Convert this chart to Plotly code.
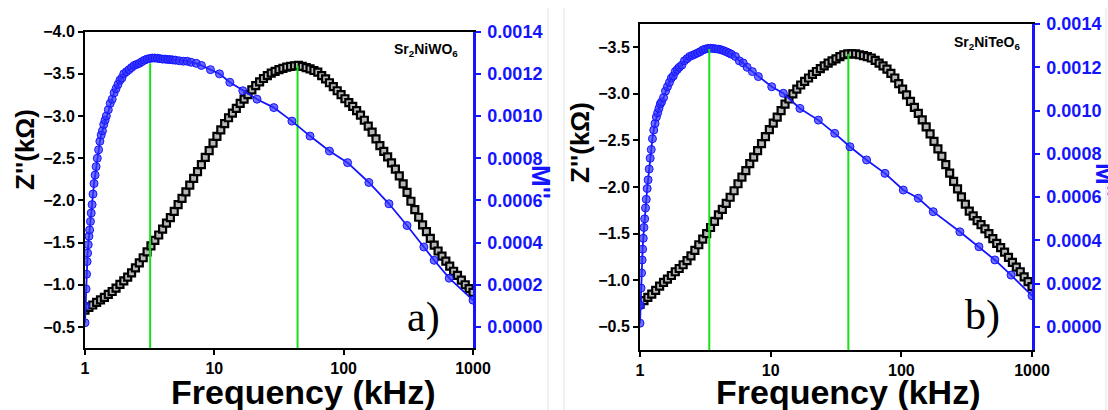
import plotly.graph_objects as go

# ---------------- data ----------------
freq = [1.000, 1.072, 1.148, 1.230, 1.318, 1.413, 1.514, 1.622, 1.738, 1.862, 1.995, 2.138, 2.291,
        2.455, 2.630, 2.818, 3.020, 3.236, 3.467, 3.715, 3.981, 4.266, 4.571, 4.898, 5.248, 5.623,
        6.026, 6.457, 6.918, 7.413, 7.943, 8.511, 9.120, 9.772,
        10.47, 11.22, 12.02, 12.88, 13.80, 14.79, 15.85, 16.98, 18.20, 19.50, 20.89, 22.39, 23.99,
        25.70, 27.54, 29.51, 31.62, 33.88, 36.31, 38.90, 41.69, 44.67, 47.86, 51.29, 54.95, 58.88,
        63.10, 67.61, 72.44, 77.62, 83.18, 89.13, 95.50,
        102.3, 109.6, 117.5, 125.9, 134.9, 144.5, 154.9, 166.0, 177.8, 190.5, 204.2, 218.8, 234.4,
        251.2, 269.2, 288.4, 309.0, 331.1, 354.8, 380.2, 407.4, 436.5, 467.7, 501.2, 537.0, 575.4,
        616.6, 660.7, 707.9, 758.6, 812.8, 871.0, 933.3, 1000]

z_a = [-0.70, -0.73, -0.76, -0.79, -0.82, -0.85, -0.885, -0.92, -0.96, -1.005, -1.045, -1.09,
       -1.14, -1.20, -1.26, -1.32, -1.39, -1.46, -1.525, -1.59, -1.66, -1.73, -1.795, -1.87,
       -1.95, -2.025, -2.10, -2.18, -2.26, -2.34, -2.425, -2.51, -2.59, -2.68,
       -2.76, -2.835, -2.91, -2.98, -3.035, -3.09, -3.15, -3.20, -3.255, -3.31, -3.36, -3.405,
       -3.445, -3.48, -3.51, -3.53, -3.55, -3.565, -3.58, -3.59, -3.595, -3.60, -3.59, -3.575,
       -3.56, -3.54, -3.52, -3.48, -3.44, -3.395, -3.35, -3.30, -3.255,
       -3.205, -3.16, -3.115, -3.065, -3.01, -2.95, -2.88, -2.81, -2.73, -2.65, -2.58, -2.515,
       -2.445, -2.37, -2.29, -2.195, -2.095, -1.99, -1.89, -1.80, -1.71, -1.63, -1.55, -1.47,
       -1.40, -1.34, -1.28, -1.22, -1.16, -1.11, -1.055, -1.00, -0.955, -0.91]

z_b = [-0.74, -0.78, -0.815, -0.85, -0.89, -0.935, -0.975, -1.01, -1.05, -1.09, -1.125, -1.165,
       -1.21, -1.26, -1.32, -1.38, -1.44, -1.50, -1.565, -1.63, -1.70, -1.76, -1.825, -1.89,
       -1.96, -2.035, -2.105, -2.175, -2.25, -2.32, -2.39, -2.465, -2.54, -2.615,
       -2.685, -2.75, -2.82, -2.89, -2.945, -3.00, -3.05, -3.095, -3.135, -3.17, -3.21, -3.24,
       -3.27, -3.30, -3.33, -3.355, -3.375, -3.40, -3.42, -3.43, -3.43, -3.43, -3.42, -3.41,
       -3.40, -3.385, -3.36, -3.33, -3.30, -3.265, -3.22, -3.17, -3.11,
       -3.05, -2.99, -2.92, -2.855, -2.79, -2.72, -2.645, -2.57, -2.49, -2.41, -2.33, -2.24,
       -2.15, -2.06, -1.98, -1.895, -1.815, -1.74, -1.69, -1.64, -1.595, -1.55, -1.50, -1.445,
       -1.395, -1.35, -1.30, -1.245, -1.19, -1.14, -1.09, -1.035, -0.985, -0.93]

# M'' sampling: dense at low frequency (shared), sparse at high frequency
freq_m_low = [1.000, 1.009, 1.019, 1.028, 1.038, 1.047, 1.059, 1.072, 1.086, 1.102, 1.117, 1.135,
              1.153, 1.175, 1.197, 1.219, 1.245, 1.274, 1.303, 1.334, 1.365, 1.396, 1.429, 1.462,
              1.514, 1.567, 1.622, 1.679, 1.738, 1.799, 1.862, 1.928, 1.995, 2.089, 2.188, 2.291,
              2.399, 2.512, 2.630, 2.754, 2.884, 3.020, 3.162, 3.311, 3.467, 3.631, 3.802, 3.981,
              4.169, 4.365, 4.571, 4.786, 5.012, 5.370, 5.754, 6.166, 6.607, 7.244]

m_a_low = [0.00002, 0.00010, 0.00018, 0.00025, 0.00031, 0.00035, 0.00039, 0.00043, 0.00046,
           0.00050, 0.00054, 0.00058, 0.00063, 0.00068, 0.00072, 0.00076, 0.00080, 0.00084,
           0.00088, 0.00091, 0.00093, 0.00096, 0.00098, 0.00100, 0.00103, 0.00106, 0.00108,
           0.00111, 0.00113, 0.00115, 0.00117, 0.00118, 0.00120, 0.00121, 0.00122, 0.00123,
           0.00124, 0.001245, 0.00125, 0.001258, 0.001265, 0.00127, 0.001273, 0.001275,
           0.001275, 0.001274, 0.001272, 0.00127, 0.00127, 0.001268, 0.001268, 0.001266,
           0.001265, 0.001262, 0.00126, 0.00126, 0.001255, 0.00125]
freq_m_a_high = [7.943, 9.333, 10.96, 13.18, 16.60, 21.38, 28.84, 39.81, 54.95, 77.62, 107.2,
                 156.7, 223.9, 309.0, 416.9, 501.2, 654.6, 1000]
m_a_high = [0.00124, 0.00122, 0.00120, 0.00116, 0.00112, 0.00108, 0.00104, 0.000976, 0.000905,
            0.000834, 0.000779, 0.000685, 0.000584, 0.000481, 0.000379, 0.000316, 0.000231,
            0.000127]

m_b_low = [0.000018, 0.00010, 0.00018, 0.00025, 0.00031, 0.00036, 0.00041, 0.00046, 0.00050,
           0.00055, 0.00059, 0.00064, 0.00068, 0.00073, 0.00078, 0.00082, 0.00087, 0.00091,
           0.00094, 0.00097, 0.00099, 0.00101, 0.00103, 0.00104, 0.00106, 0.00109, 0.00111,
           0.00113, 0.00115, 0.00116, 0.00118, 0.00119, 0.00120, 0.00121, 0.00123, 0.00124,
           0.00125, 0.001255, 0.00126, 0.001266, 0.001272, 0.00128, 0.001284, 0.001287,
           0.001288, 0.001287, 0.001285, 0.001284, 0.001281, 0.001277, 0.001272, 0.001266,
           0.00126, 0.00125, 0.00123, 0.00122, 0.00120, 0.00118]
freq_m_b_high = [8.054, 10.19, 12.50, 16.75, 23.17, 30.90, 40.46, 54.20, 74.99, 103.5, 134.9,
                 175.4, 280.5, 392.6, 520.0, 691.8, 1000]
m_b_high = [0.001157, 0.00111, 0.00108, 0.00101, 0.000956, 0.000895, 0.000833, 0.000772, 0.00071,
            0.000633, 0.000595, 0.000533, 0.00044, 0.000371, 0.00031, 0.00024, 0.000145]

fm_a = freq_m_low + freq_m_a_high
m_a = m_a_low + m_a_high
fm_b = freq_m_low + freq_m_b_high
m_b = m_b_low + m_b_high

# peak positions (frequency, value) marked by green lines
peak_m_a = (3.19, 0.00125)
peak_z_a = (44.0, -3.60)
peak_m_b = (3.39, 0.001285)
peak_z_b = (39.3, -3.43)

z_range_a = [-0.25, -4.0]
m_range_a = [-0.0001, 0.0014]
z_range_b = [-0.25, -3.75]
m_range_b = [-0.000106, 0.0014]

z_ticks_a = [-4.0, -3.5, -3.0, -2.5, -2.0, -1.5, -1.0, -0.5]
z_ticks_b = [-3.5, -3.0, -2.5, -2.0, -1.5, -1.0, -0.5]
m_ticks = [0.0, 0.0002, 0.0004, 0.0006, 0.0008, 0.0010, 0.0012, 0.0014]
f_ticks = [1, 10, 100, 1000]

# ---------------- figure ----------------
W, H = 1108, 410
BLUE = "#1414ff"
GREEN = "#18e018"
FONT = "Liberation Sans, Arial, sans-serif"

fig = go.Figure()

sq = dict(symbol="square", size=7, color="#b8b8b8", line=dict(color="black", width=2.2))
ci = dict(symbol="circle", size=8, color="rgba(50,50,255,0.7)", line=dict(color=BLUE, width=1))

for (xa, ya, ya2, zs, fms, ms, pm, pz, zr, mr) in [
    ("x", "y", "y2", z_a, fm_a, m_a, peak_m_a, peak_z_a, z_range_a, m_range_a),
    ("x2", "y3", "y4", z_b, fm_b, m_b, peak_m_b, peak_z_b, z_range_b, m_range_b),
]:
    fig.add_trace(go.Scatter(x=freq, y=zs, mode="markers", marker=sq, xaxis=xa, yaxis=ya,
                             showlegend=False))
    fig.add_trace(go.Scatter(x=[pz[0], pz[0]], y=[zr[0], pz[1]], mode="lines",
                             line=dict(color=GREEN, width=2), xaxis=xa, yaxis=ya,
                             showlegend=False))
    fig.add_trace(go.Scatter(x=fms, y=ms, mode="lines+markers", marker=ci,
                             line=dict(color=BLUE, width=1.8), xaxis=xa, yaxis=ya2,
                             showlegend=False))
    fig.add_trace(go.Scatter(x=[pm[0], pm[0]], y=[mr[0], pm[1]], mode="lines",
                             line=dict(color=GREEN, width=2), xaxis=xa, yaxis=ya2,
                             showlegend=False))

tickfont_k = dict(family=FONT, size=16, color="black", weight="bold")
tickfont_b = dict(family=FONT, size=18, color=BLUE, weight="bold")


def xax(domain, anchor):
    return dict(domain=domain, anchor=anchor, type="log", range=[0, 3], tickvals=f_ticks,
                ticktext=[str(v) for v in f_ticks], showline=True, linecolor="black",
                linewidth=2, mirror=True, ticks="outside", ticklen=5, tickwidth=2,
                tickcolor="black", showgrid=False, zeroline=False, tickfont=tickfont_k,
                automargin=False)


def yleft(domain, anchor, rng, tv):
    return dict(domain=domain, anchor=anchor, range=rng, tickvals=tv, tickformat=".1f",
                showline=True, linecolor="black", linewidth=2, ticks="outside", ticklen=5,
                tickwidth=2, tickcolor="black", showgrid=False, zeroline=False,
                tickfont=tickfont_k, automargin=False)


def yright(overlay, anchor, rng):
    return dict(overlaying=overlay, anchor=anchor, side="right", range=rng, tickvals=m_ticks,
                tickformat=".4f", showline=True, linecolor=BLUE, linewidth=2.5,
                ticks="outside", ticklen=5, tickwidth=2, tickcolor=BLUE, showgrid=False,
                zeroline=False, tickfont=tickfont_b, ticklabelstandoff=3, automargin=False)


def px(x):
    return x / W


def py(y):
    return 1 - y / H


fig.update_layout(
    width=W, height=H, margin=dict(l=0, r=0, t=0, b=0, autoexpand=False),
    paper_bgcolor="white", plot_bgcolor="white",
    xaxis=xax([px(85), px(473)], "y"),
    yaxis=yleft([py(348), py(31.7)], "x", z_range_a, z_ticks_a),
    yaxis2=yright("y", "x", m_range_a),
    xaxis2=xax([px(640), px(1032)], "y3"),
    yaxis3=yleft([py(350), py(24)], "x2", z_range_b, z_ticks_b),
    yaxis4=yright("y3", "x2", m_range_b),
)

ann = []


def add_text(text, x, y, size, color="black", angle=0, family=FONT, weight="bold"):
    ann.append(dict(text=text, x=px(x), y=py(y), xref="paper", yref="paper",
                    showarrow=False, textangle=angle, xanchor="center", yanchor="middle",
                    font=dict(family=family, size=size, color=color, weight=weight)))


add_text("Z''(kΩ)", 25, 150, 26, angle=-90)
add_text("Z''(kΩ)", 580, 143, 26, angle=-90)
add_text("M''", 541, 182, 26, color=BLUE, angle=90)
add_text("M''", 1105, 180, 26, color=BLUE, angle=90)
add_text("Frequency (kHz)", 303, 392, 34)
add_text("Frequency (kHz)", 848, 392, 34)
add_text("Sr<sub>2</sub>NiWO<sub>6</sub>", 426, 50, 14)
add_text("Sr<sub>2</sub>NiTeO<sub>6</sub>", 987, 43, 14)
add_text("a)", 423, 317, 42, family="Liberation Serif, Times New Roman, serif", weight="normal")
add_text("b)", 982, 315, 42, family="Liberation Serif, Times New Roman, serif", weight="normal")

fig.update_layout(annotations=ann)

shapes = []
for xs in [548, 564, 1106]:
    shapes.append(dict(type="line", xref="paper", yref="paper", x0=px(xs), x1=px(xs),
                       y0=0, y1=py(8), line=dict(color="#e2e2e2", width=1)))
fig.update_layout(shapes=shapes)

fig.write_html("out.html")
